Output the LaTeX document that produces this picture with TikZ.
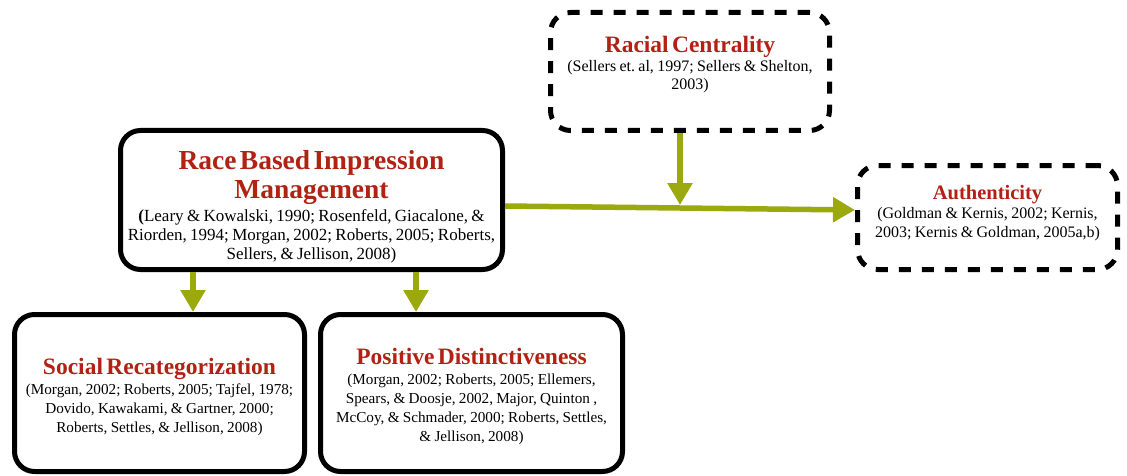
\documentclass[tikz,border=0pt]{standalone}
\usepackage{fontspec}
\setmainfont{Liberation Serif}
\usetikzlibrary{arrows.meta}
\definecolor{titlered}{RGB}{178,34,20}
\definecolor{linkgreen}{RGB}{155,168,14}
\newcommand{\headfont}[2]{\fontsize{#1}{#2}\selectfont\bfseries\color{titlered}}
\newcommand{\citefont}[2]{\fontsize{#1}{#2}\selectfont}
\newcommand{\upstrut}[1]{\rule{0pt}{#1}}
\newcommand{\downstrut}[1]{\rule[-#1]{0pt}{0pt}}

\begin{document}
\begin{tikzpicture}[x=1pt,y=-1pt,
  solidbox/.style={draw=black,line width=5pt,rounded corners=20pt,align=center,inner sep=0pt},
  dashbox/.style={solidbox,dash pattern=on 12pt off 11pt},
  link/.style={draw=linkgreen,line width=5.5pt,-{Triangle[length=22pt,width=24pt]}}]
\useasboundingbox (0,0) rectangle (1127,476);

% boxes
\node[dashbox,minimum width=279,minimum height=118,text width=279] (racial) at (690,71.5)
  {{\headfont{23.5}{26}Racial Centrality\par}\vspace{1pt}
   {\citefont{16}{18}(Sellers et.\ al, 1997; Sellers \& Shelton,\\2003)\downstrut{17.8pt}\par}};
\node[solidbox,minimum width=382,minimum height=139,text width=382] (impress) at (311.5,200)
  {{\headfont{27.5}{29}\upstrut{31.7pt}Race Based Impression\\Management\par}\vspace{4pt}
   {\citefont{17}{19}\textbf{(}Leary \& Kowalski, 1990; Rosenfeld, Giacalone, \&\\
    Riorden, 1994; Morgan, 2002; Roberts, 2005; Roberts,\\
    Sellers, \& Jellison, 2008)\par}};
\node[dashbox,minimum width=260,minimum height=104,text width=260] (auth) at (987.5,217.5)
  {{\headfont{20.5}{24}Authenticity\par}\vspace{-0.5pt}
   {\citefont{16}{19}(Goldman \& Kernis, 2002; Kernis,\\2003; Kernis \& Goldman, 2005a,b)\downstrut{12pt}\par}};
\node[solidbox,minimum width=290,minimum height=157,text width=290] (recat) at (159.5,393)
  {{\headfont{23.5}{26}\upstrut{24pt}Social Recategorization\par}\vspace{1.2pt}
   {\citefont{15.2}{18.8}(Morgan, 2002; Roberts, 2005; Tajfel, 1978;\\
    Dovido, Kawakami, \& Gartner, 2000;\\
    Roberts, Settles, \& Jellison, 2008)\par}};
\node[solidbox,minimum width=302,minimum height=157,text width=302] (distinct) at (471.5,393)
  {{\headfont{23.5}{26}\upstrut{23pt}Positive Distinctiveness\par}\vspace{1pt}
   {\citefont{15.2}{19}(Morgan, 2002; Roberts, 2005; Ellemers,\\
    Spears, \& Doosje, 2002, Major, Quinton ,\\
    McCoy, \& Schmader, 2000; Roberts, Settles,\\
    \& Jellison, 2008)\par}};

% arrows
\coordinate (dropA) at (193,0);
\coordinate (dropB) at (416,0);
\coordinate (dropC) at (680,0);
\coordinate (meet) at (680,205);
\draw[link] ([yshift=-6pt]impress.east) -- ([yshift=7.5pt]auth.west);
\draw[link] (dropC |- racial.south) -- (meet);
\draw[link] (dropA |- impress.south) -- (dropA |- recat.north);
\draw[link] (dropB |- impress.south) -- (dropB |- distinct.north);
\end{tikzpicture}
\end{document}
